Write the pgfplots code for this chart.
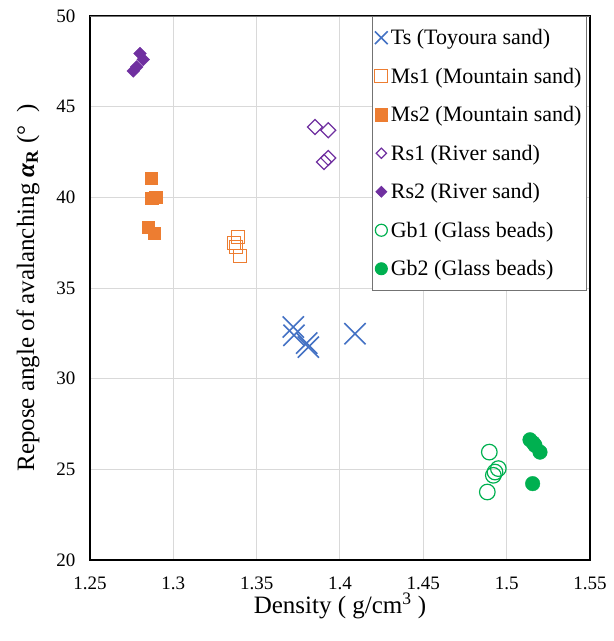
\documentclass[border=0pt]{standalone}
\usepackage{fontspec}
\setmainfont{Liberation Serif}
\usepackage{pgfplots}
\pgfplotsset{compat=1.18}

\definecolor{tsblue}{HTML}{4472C4}
\definecolor{msorange}{HTML}{ED7D31}
\definecolor{rspurple}{HTML}{7030A0}
\definecolor{gbgreen}{HTML}{00B050}

\begin{document}
\begin{tikzpicture}
\begin{axis}[
  scale only axis,
  width=500pt, height=544pt,
  xmin=1.25, xmax=1.55, ymin=20, ymax=50,
  xtick={1.25,1.3,1.35,1.4,1.45,1.5,1.55},
  xticklabels={1.25,1.3,1.35,1.4,1.45,1.5,1.55},
  ytick={20,25,30,35,40,45,50},
  yticklabels={20,25,30,35,40,45,50},
  major tick length=0pt,
  grid=major,
  major grid style={draw=black!15, line width=1pt},
  axis line style={black, line width=1.2pt},
  tick label style={font=\fontsize{19}{21}\selectfont},
  xticklabel style={yshift=-13pt},
  yticklabel style={xshift=-11pt},
  xlabel={Density ( g/cm\textsuperscript{3} )},
  ylabel={Repose angle of avalanching \textbf{\textit{α}}\textsubscript{\textbf{R}} (°\ \ )},
  every axis x label/.style={at={(axis description cs:0.5,0)}, yshift=-46pt, anchor=center,
    font=\fontsize{25}{28}\selectfont},
  every axis y label/.style={at={(axis description cs:0,0.5)}, xshift=-62pt, rotate=90, anchor=center,
    font=\fontsize{25}{28}\selectfont},
  legend style={at={(rel axis cs:0.994,1)}, anchor=north east, draw=black!55, line width=1pt,
    fill=white, font=\fontsize{22}{26}\selectfont, inner sep=2pt, row sep=0pt,
    nodes={inner sep=3pt, minimum height=38.5pt}},
  legend cell align=left,
  legend image code/.code={\draw[mark repeat=2,mark phase=2] plot coordinates {(0pt,0pt)(11pt,0pt)(22pt,0pt)};},
]
\addplot[only marks, mark=x, draw=tsblue, line width=1.6pt, mark size=15pt,
  legend image post style={mark size=9pt}]
  coordinates {(1.372,32.85) (1.3724,32.39) (1.380,31.96) (1.381,31.74) (1.409,32.48)};
\addlegendentry{Ts (Toyoura sand)}
\addplot[only marks, mark=square, draw=msorange, line width=1.2pt, mark size=6.5pt]
  coordinates {(1.3388,37.8) (1.3364,37.46) (1.3376,37.24) (1.340,36.75)};
\addlegendentry{Ms1 (Mountain sand)}
\addplot[only marks, mark=square*, draw=msorange, fill=msorange, mark size=6.3pt]
  coordinates {(1.2868,41.06) (1.287,39.96) (1.2896,40.0) (1.285,38.36) (1.2886,38.03)};
\addlegendentry{Ms2 (Mountain sand)}
\addplot[only marks, mark=square, mark options={rotate=45}, draw=rspurple, line width=1.2pt, mark size=5.3pt,
  legend image post style={mark size=3.6pt}]
  coordinates {(1.385,43.88) (1.393,43.7) (1.3904,41.95) (1.393,42.17)};
\addlegendentry{Rs1 (River sand)}
\addplot[only marks, mark=square*, mark options={rotate=45}, draw=rspurple, fill=rspurple, mark size=4.5pt,
  legend image post style={mark size=3.8pt}]
  coordinates {(1.280,47.93) (1.282,47.6) (1.278,47.19) (1.276,46.97)};
\addlegendentry{Rs2 (River sand)}
\addplot[only marks, mark=o, draw=gbgreen, line width=1.2pt, mark size=7.8pt,
  legend image post style={mark size=6pt}]
  coordinates {(1.4896,25.95) (1.495,25.04) (1.493,24.85) (1.492,24.67) (1.4884,23.75)};
\addlegendentry{Gb1 (Glass beads)}
\addplot[only marks, mark=*, draw=gbgreen, fill=gbgreen, mark size=7.3pt,
  legend image post style={mark size=6pt}]
  coordinates {(1.514,26.63) (1.516,26.45) (1.517,26.32) (1.520,25.95) (1.5156,24.21)};
\addlegendentry{Gb2 (Glass beads)}
\draw[black!55, line width=1.4pt] (rel axis cs:0,1) -- (rel axis cs:1,1);
\end{axis}
\pgfresetboundingbox
\path (-90pt,-81pt) rectangle (524pt,560pt);
\end{tikzpicture}
\end{document}
